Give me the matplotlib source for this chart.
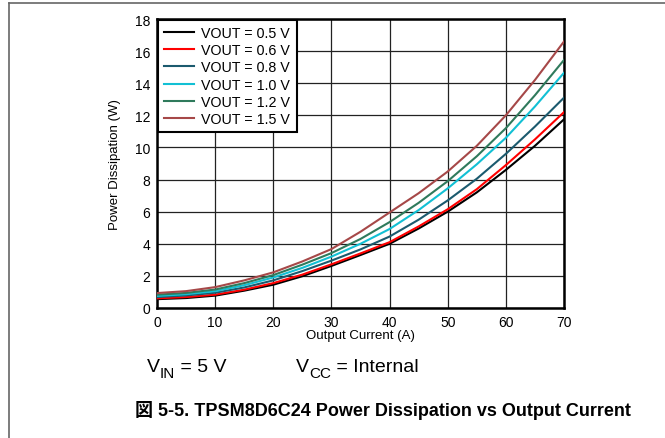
import matplotlib
matplotlib.use("Agg")
import matplotlib.pyplot as plt
from matplotlib.lines import Line2D

plt.rcParams['font.family'] = ['Liberation Sans', 'Noto Sans CJK JP', 'DejaVu Sans']

# ---------- data ----------
current = [0, 5, 10, 15, 20, 25, 30, 35, 40, 45, 50, 55, 60, 65, 70]

p_05 = [0.55, 0.62, 0.77, 1.08, 1.45, 1.98, 2.62, 3.30, 4.00, 4.95, 6.00, 7.20, 8.60, 10.10, 11.75]
p_06 = [0.60, 0.68, 0.83, 1.14, 1.55, 2.08, 2.72, 3.40, 4.10, 5.08, 6.15, 7.40, 8.90, 10.50, 12.20]
p_08 = [0.68, 0.78, 0.95, 1.28, 1.72, 2.30, 2.95, 3.65, 4.45, 5.50, 6.70, 8.05, 9.60, 11.30, 13.10]
p_10 = [0.75, 0.86, 1.05, 1.42, 1.90, 2.50, 3.20, 4.00, 4.92, 6.10, 7.45, 8.95, 10.60, 12.55, 14.65]
p_12 = [0.83, 0.94, 1.15, 1.55, 2.05, 2.70, 3.42, 4.30, 5.35, 6.55, 7.90, 9.45, 11.20, 13.25, 15.45]
p_15 = [0.93, 1.05, 1.30, 1.72, 2.22, 2.90, 3.67, 4.75, 5.95, 7.15, 8.50, 10.10, 12.00, 14.20, 16.60]

labels = ["VOUT = 0.5 V", "VOUT = 0.6 V", "VOUT = 0.8 V",
          "VOUT = 1.0 V", "VOUT = 1.2 V", "VOUT = 1.5 V"]
series = [p_05, p_06, p_08, p_10, p_12, p_15]
colors = ["#000000", "#ff0000", "#1b5a6e", "#12c0d4", "#2f7a5c", "#a64848"]

x_ticks = [0, 10, 20, 30, 40, 50, 60, 70]
y_ticks = [0, 2, 4, 6, 8, 10, 12, 14, 16, 18]

# ---------- figure ----------
fig = plt.figure(figsize=(6.65, 4.39), dpi=100)
ax = fig.add_axes([157 / 665, 1 - 309 / 439, 407 / 665, 289 / 439])

for y, lab, c in zip(series, labels, colors):
    ax.plot(current, y, color=c, lw=1.5, label=lab, zorder=3)

ax.set_xlim(0, 70)
ax.set_ylim(0, 18)
ax.set_xticks(x_ticks)
ax.set_yticks(y_ticks)
ax.tick_params(length=0, labelsize=10, pad=5)
ax.grid(True, color="#222222", lw=0.9)
for s in ax.spines.values():
    s.set_linewidth(1.8)
    s.set_color("black")

ax.set_xlabel("Output Current (A)", fontsize=9.5, labelpad=0)
ax.set_ylabel("Power Dissipation (W)", fontsize=9.5, labelpad=10)

leg = ax.legend(loc="upper left", fontsize=10.3, frameon=True, fancybox=False,
                framealpha=1, edgecolor="black", handlelength=2.1,
                borderaxespad=0.05, labelspacing=0.22, borderpad=0.45,
                handletextpad=0.5)
leg.get_frame().set_linewidth(1.5)

# ---------- conditions line: V + subscript + rest ----------
renderer = fig.canvas.get_renderer()
px_w = 665.0


def cond_text(x0, sub, rest, base=1 - 372 / 439):
    t1 = fig.text(x0 / px_w, base, "V", fontsize=14, va="baseline", ha="left")
    w1 = t1.get_window_extent(renderer).width
    t2 = fig.text((x0 + w1) / px_w, base - 6 / 439, sub, fontsize=11,
                  va="baseline", ha="left")
    w2 = t2.get_window_extent(renderer).width
    fig.text((x0 + w1 + w2) / px_w, base, rest, fontsize=14,
             va="baseline", ha="left")


cond_text(147, "IN", " = 5 V")
cond_text(296, "CC", " = Internal")

fig.text(383 / 665, 1 - 411 / 439,
         "図 5-5. TPSM8D6C24 Power Dissipation vs Output Current",
         fontsize=13, fontweight="bold", va="center", ha="center")

# page frame lines (top and left)
fig.add_artist(Line2D([8.5 / 665, 1], [1 - 4 / 439, 1 - 4 / 439],
                      color="#666666", lw=1.2, transform=fig.transFigure))
fig.add_artist(Line2D([8.5 / 665, 8.5 / 665], [0, 1 - 4 / 439],
                      color="#666666", lw=1.2, transform=fig.transFigure))

fig.savefig("out.png", dpi=100)
